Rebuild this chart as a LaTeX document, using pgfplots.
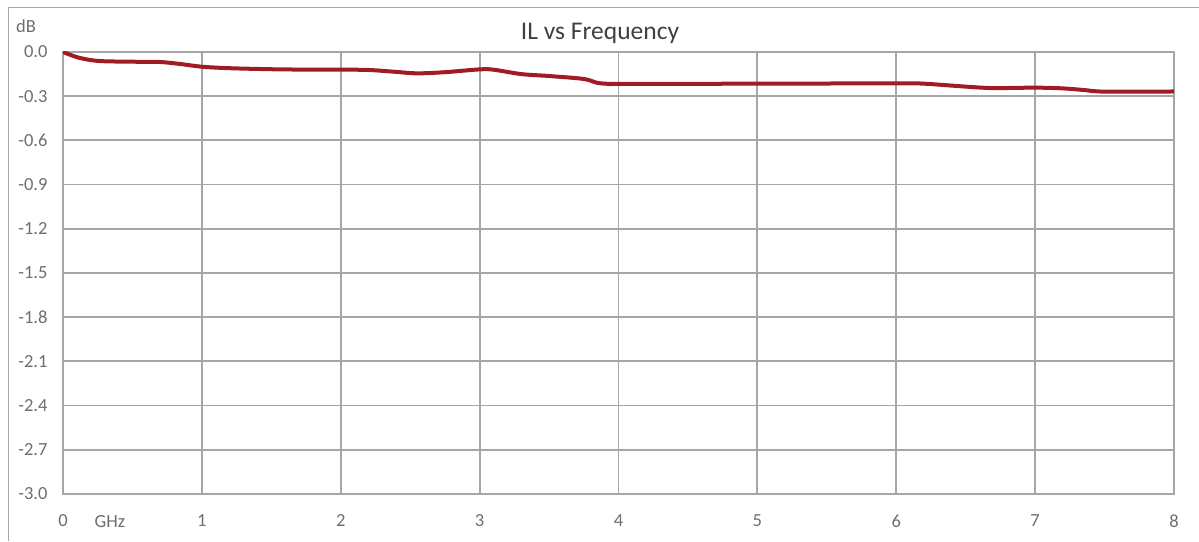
\documentclass[border=0pt]{standalone}
\usepackage{pgfplots}
\pgfplotsset{compat=1.18}
\usepackage{fontspec}
\setmainfont{Carlito}

\definecolor{ilred}{RGB}{160,28,34}
\definecolor{gridgray}{RGB}{166,166,166}
\definecolor{ticktext}{RGB}{110,110,110}
\definecolor{titletext}{RGB}{64,64,64}

\begin{document}
\begin{tikzpicture}[x=1pt,y=1pt]
\useasboundingbox (0,0) rectangle (1199,541);
% outer chart frame (cut off on the right and bottom)
\draw[gridgray, line width=1.5pt] (8.3,0) -- (8.3,533.7) -- (1199,533.7);

\begin{axis}[
    at={(63pt,47pt)}, anchor=south west,
    scale only axis,
    width=1111pt, height=442pt,
    xmin=0, xmax=8, ymin=-3, ymax=0,
    xtick={0,1,...,8},
    ytick={-3,-2.7,-2.4,-2.1,-1.8,-1.5,-1.2,-0.9,-0.6,-0.3,0},
    yticklabels={-3.0,-2.7,-2.4,-2.1,-1.8,-1.5,-1.2,-0.9,-0.6,-0.3,0.0},
    xticklabels={0,1,2,3,4,5,6,7,8},
    grid=major,
    major grid style={gridgray, line width=1.8pt},
    axis line style={gridgray, line width=1.8pt},
    major tick length=0pt,
    tick label style={font=\fontsize{18.5}{20}\selectfont, text=ticktext},
    yticklabel style={xshift=-12pt},
    xticklabel style={yshift=-17pt},
  ]
  \addplot[ilred, line width=4pt, smooth, tension=0.5] coordinates {
    (0,0) (0.1,-0.035) (0.2,-0.055) (0.3,-0.063) (0.5,-0.066) (0.7,-0.068)
    (0.85,-0.082) (1.0,-0.1) (1.2,-0.11) (1.5,-0.117) (1.8,-0.12) (2.0,-0.12)
    (2.2,-0.122) (2.4,-0.135) (2.55,-0.145) (2.75,-0.137) (3.0,-0.118) (3.1,-0.12)
    (3.3,-0.15) (3.5,-0.163) (3.75,-0.183) (3.85,-0.21) (3.95,-0.217) (4.0,-0.217)
    (5.0,-0.215) (6.0,-0.213) (6.2,-0.215) (6.5,-0.235) (6.7,-0.245) (7.0,-0.242)
    (7.2,-0.247) (7.35,-0.258) (7.5,-0.269) (8.0,-0.268)
  };
\end{axis}

\node[anchor=base, text=titletext, font=\fontsize{25.5}{28}\selectfont] at (600,501.7) {IL vs Frequency};
\node[text=ticktext, font=\fontsize{18.5}{20}\selectfont] at (26,515) {dB};
\node[text=ticktext, font=\fontsize{18.5}{20}\selectfont] at (110,19) {GHz};
\end{tikzpicture}
\end{document}
